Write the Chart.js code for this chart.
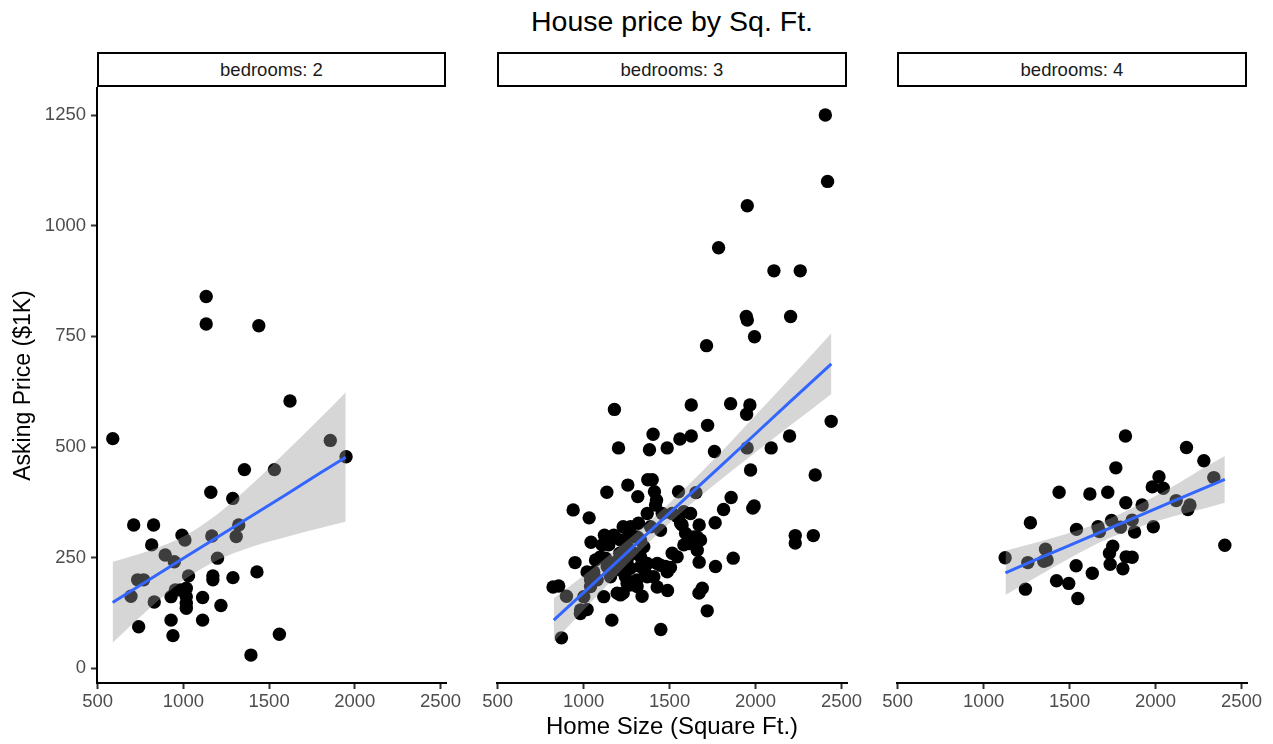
<!DOCTYPE html>
<html>
<head>
<meta charset="utf-8">
<script src="https://cdn.jsdelivr.net/npm/chart.js@4.4.1/dist/chart.umd.min.js"></script>
<style>
  html, body { margin: 0; padding: 0; background: #ffffff; }
  #wrap { position: relative; width: 1273px; height: 744px; overflow: hidden;
          font-family: "Liberation Sans", Arial, Helvetica, sans-serif; }
  #wrap canvas { position: absolute; left: 0; top: 0; }
  .title { position: absolute; left: 97px; width: 1150px; top: 7px; text-align: center;
           font-size: 28.5px; line-height: 28px; color: #000; }
  .strip { position: absolute; top: 52px; height: 35px; box-sizing: border-box;
           border: 2px solid #000; display: flex; align-items: center; justify-content: center;
           font-size: 18.5px; color: #1a1a1a; background: #fff; }
</style>
</head>
<body>
<div id="wrap">
  <div class="title">House price by Sq. Ft.</div>
</div>
<script>
// Facets (number of bedrooms)
const bedrooms = [2, 3, 4];

// Axis ticks
const xTicks = [500, 1000, 1500, 2000, 2500];
const yTicks = [0, 250, 500, 750, 1000, 1250];

// 2 bedrooms: home size (sq. ft.) and asking price ($1K)
const sqft2 = [1133, 1133, 1440, 1622, 588, 1857, 1949, 1356, 1531, 1160, 1288, 710, 826, 1323, 1308, 992,
  1009, 1166, 815, 894, 947, 1199, 733, 768, 1030, 1172, 1172, 1289, 1429, 694, 953, 928, 982, 1017, 1017,
  1017, 1017, 830, 1112, 1219, 739, 928, 1112, 939, 1560, 1394];
const price2 = [840, 778, 774, 604, 519, 515, 478, 449, 449, 398, 384, 324, 324, 324, 298, 301,
  290, 299, 279, 256, 241, 249, 200, 200, 209, 209, 200, 205, 218, 163, 177, 162, 177, 181, 162,
  147, 136, 150, 160, 142, 94, 109, 109, 74, 77, 30];

// 3 bedrooms
const sqft3 = [2406, 2419, 1952, 1785, 2107, 2260, 1946, 1952, 2204, 1994, 1715, 2440, 1179, 1626, 1855, 1967,
  1948, 1721, 1404, 1560, 1626, 2198, 1203, 1383, 1486, 1761, 1951, 2091, 1971, 2347, 1373, 1399,
  1257, 1135, 1315, 1412, 1424, 1418, 1552, 1653, 1858, 1992, 1984, 1814, 939, 1032, 1370, 1765,
  1672, 1319, 1230, 2336, 2231, 2231, 1043, 1121, 1175, 1870, 1767, 1672, 950, 1486, 1447, 1690,
  1671, 1488, 1117, 1719, 1164, 1449, 871, 822, 855, 900, 982, 1020, 1195, 1230, 1340, 1146,
  1108, 1098, 1127, 1059, 1040, 1210, 1191, 1292, 1253, 1331, 1331, 1370, 1360, 1428, 1476, 1515,
  1311, 1263, 1214, 1001, 981, 1214, 1156, 1137, 1272, 1243, 1408, 1428, 1457, 1515, 1583, 1622,
  1564, 1593, 1641, 1612, 1661, 1583, 1544, 1389, 1311, 1350, 1292, 1253, 1176, 1079, 1040, 1020,
  1214, 1253, 1331, 1370, 1311, 1253, 1447, 1273, 1069, 1622, 1680, 1505, 1544, 1573, 1660];
const price3 = [1250, 1100, 1045, 950, 898, 898, 795, 787, 795, 749, 729, 558, 585, 595, 598, 595,
  574, 549, 529, 518, 525, 525, 498, 494, 498, 490, 498, 498, 448, 437, 426, 426,
  414, 398, 388, 399, 380, 369, 399, 397, 386, 367, 362, 359, 358, 340, 350, 329,
  324, 328, 320, 300, 300, 283, 285, 301, 301, 249, 230, 240, 239, 218, 233, 181,
  170, 176, 162, 130, 109, 88, 69, 184, 186, 163, 132, 133, 170, 170, 163, 279,
  279, 252, 249, 218, 200, 260, 241, 297, 294, 290, 252, 237, 215, 237, 230, 260,
  200, 188, 166, 162, 124, 222, 207, 230, 226, 207, 207, 184, 350, 350, 354, 350,
  328, 305, 297, 282, 267, 279, 252, 320, 297, 275, 260, 245, 230, 200, 185, 218,
  290, 275, 230, 207, 185, 192, 312, 320, 245, 295, 290, 228, 343, 324, 297];

// 4 bedrooms
const sqft4 = [1825, 2180, 2281, 1769, 2339, 2020, 1981, 2045, 1439, 1618, 1722, 1827, 1922, 2120, 2200, 2188,
  1272, 1540, 1744, 1796, 1864, 1674, 1665, 1878, 1987, 1360, 1369, 1350, 1257, 1125, 1538, 1632,
  1751, 1732, 1736, 1829, 1864, 1810, 1424, 1495, 1243, 1548, 2403];
const price4 = [525, 499, 469, 453, 431, 433, 410, 407, 398, 394, 398, 374, 369, 379, 369, 359,
  329, 314, 334, 319, 335, 309, 320, 308, 320, 269, 245, 242, 239, 250, 232, 215,
  276, 260, 235, 252, 251, 225, 198, 192, 179, 158, 278];

// Linear fit (blue line) with its confidence band, per facet
const fitSqft2 = [587, 800, 1000, 1200, 1400, 1600, 1800, 1947];
const fitPrice2 = [149, 200, 249, 297, 345, 393, 442, 477];
const fitLow2 = [58, 135, 199, 245, 275, 297, 317, 331];
const fitHigh2 = [241, 266, 298, 349, 416, 490, 566, 624];

const fitSqft3 = [826, 1000, 1200, 1400, 1600, 1800, 2000, 2200, 2441];
const fitPrice3 = [109, 171, 243, 315, 387, 458, 530, 602, 688];
const fitLow3 = [60, 132, 214, 292, 363, 427, 488, 548, 620];
const fitHigh3 = [158, 210, 272, 338, 411, 489, 572, 655, 757];

const fitSqft4 = [1127, 1300, 1500, 1700, 1900, 2100, 2300, 2403];
const fitPrice4 = [216, 245, 278, 311, 344, 377, 410, 427];
const fitLow4 = [166, 205, 249, 289, 319, 343, 363, 374];
const fitHigh4 = [266, 284, 306, 333, 369, 411, 457, 480];

const FONT = '"Liberation Sans", Arial, Helvetica, sans-serif';
const W = 1273, H = 744;
const panelLeft = [97, 497, 897];
const panelRight = [446, 847, 1247];
const panelTop = 88, panelBottom = 683;
const xRange = [496, 2532];
const yRange = [-33, 1311];

const wrap = document.getElementById('wrap');

function pts(xs, ys) { return xs.map((x, k) => ({ x: x, y: ys[k] })); }

function addPanel(i, xs, ys, fx, fy, lo, hi) {
  // facet strip
  const strip = document.createElement('div');
  strip.className = 'strip';
  strip.style.left = panelLeft[i] + 'px';
  strip.style.width = (panelRight[i] - panelLeft[i]) + 'px';
  strip.textContent = 'bedrooms: ' + bedrooms[i];
  wrap.appendChild(strip);

  const cv = document.createElement('canvas');
  cv.width = W; cv.height = H;
  cv.style.width = W + 'px'; cv.style.height = H + 'px';
  wrap.appendChild(cv);

  const yAxisW = i === 0 ? 97 : 0;
  new Chart(cv, {
    type: 'scatter',
    data: {
      datasets: [
        { type: 'line', data: pts(fx, fy), borderColor: '#3366FF', borderWidth: 3,
          pointRadius: 0, fill: false, order: 0 },
        { type: 'line', data: pts(fx, hi), borderWidth: 0, borderColor: 'rgba(0,0,0,0)',
          pointRadius: 0, fill: '+1', backgroundColor: 'rgba(153,153,153,0.4)',
          cubicInterpolationMode: 'monotone', order: 1 },
        { type: 'line', data: pts(fx, lo), borderWidth: 0, borderColor: 'rgba(0,0,0,0)',
          pointRadius: 0, fill: false, cubicInterpolationMode: 'monotone', order: 2 },
        { data: pts(xs, ys), pointRadius: 6.7, pointHoverRadius: 6.7,
          pointBackgroundColor: '#000', pointBorderWidth: 0, order: 3 }
      ]
    },
    options: {
      responsive: false,
      animation: false,
      events: [],
      layout: {
        padding: {
          left: panelLeft[i] - yAxisW,
          right: W - panelRight[i],
          top: panelTop,
          bottom: 0
        }
      },
      plugins: { legend: { display: false }, tooltip: { enabled: false }, title: { display: false } },
      scales: {
        x: {
          type: 'linear',
          min: xRange[0], max: xRange[1],
          afterBuildTicks: s => { s.ticks = xTicks.map(v => ({ value: v })); },
          afterFit: s => { s.height = H - panelBottom; },
          border: { display: true, color: '#000', width: 2 },
          grid: { display: true, drawOnChartArea: false, drawTicks: true, tickLength: 6,
                  tickColor: '#333333', tickWidth: 2 },
          ticks: { color: '#4d4d4d', font: { size: 18.5, family: FONT }, padding: 2,
                   maxRotation: 0, autoSkip: false, callback: v => String(v) },
          title: {
            display: i === 1,
            text: 'Home Size (Square Ft.)',
            color: '#000',
            font: { size: 24, family: FONT },
            padding: { top: 0, bottom: 2 }
          }
        },
        y: {
          type: 'linear',
          display: i === 0,
          min: yRange[0], max: yRange[1],
          afterBuildTicks: s => { s.ticks = yTicks.map(v => ({ value: v })); },
          afterFit: s => { s.width = yAxisW; },
          border: { display: true, color: '#000', width: 2 },
          grid: { display: true, drawOnChartArea: false, drawTicks: true, tickLength: 6,
                  tickColor: '#333333', tickWidth: 2 },
          ticks: { color: '#4d4d4d', font: { size: 18.5, family: FONT }, padding: 5,
                   callback: v => String(v) },
          title: {
            display: true,
            text: 'Asking Price ($1K)',
            color: '#000',
            font: { size: 23, family: FONT },
            padding: { top: 10, bottom: 0 }
          }
        }
      }
    }
  });
}

addPanel(0, sqft2, price2, fitSqft2, fitPrice2, fitLow2, fitHigh2);
addPanel(1, sqft3, price3, fitSqft3, fitPrice3, fitLow3, fitHigh3);
addPanel(2, sqft4, price4, fitSqft4, fitPrice4, fitLow4, fitHigh4);
</script>
</body>
</html>
